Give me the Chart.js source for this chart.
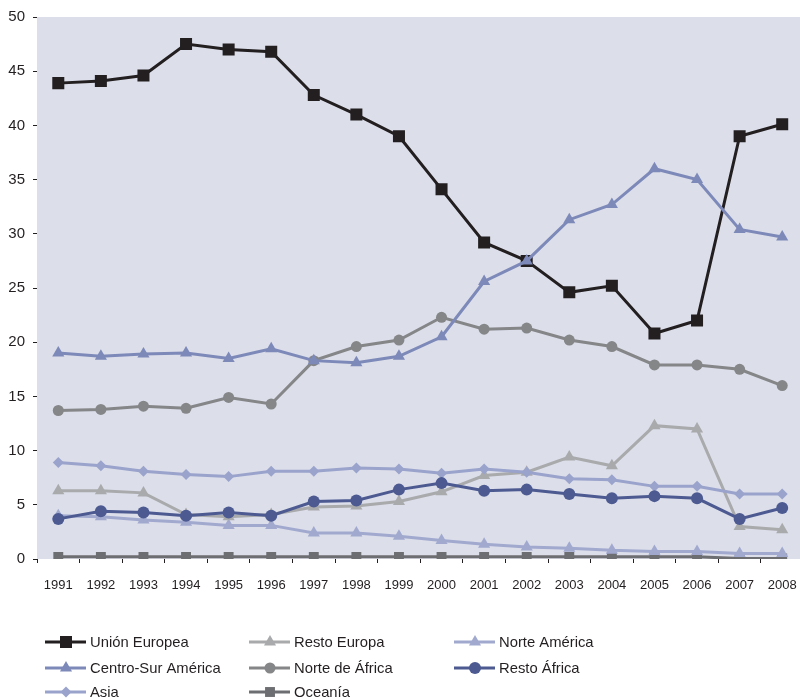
<!DOCTYPE html>
<html>
<head>
<meta charset="utf-8">
<script src="https://cdn.jsdelivr.net/npm/chart.js@4.4.1/dist/chart.umd.min.js"></script>
<style>
  html, body { margin: 0; padding: 0; background: #fff; overflow: hidden; }
  #wrap { width: 812px; height: 698px; position: relative; }
</style>
</head>
<body>
<div id="wrap"><canvas id="myChart" width="812" height="698"></canvas></div>
<script>
// years on the x axis
const years = ['1991','1992','1993','1994','1995','1996','1997','1998','1999',
               '2000','2001','2002','2003','2004','2005','2006','2007','2008'];

const unionEuropea   = [43.9, 44.1, 44.6, 47.5, 47.0, 46.8, 42.8, 41.0, 39.0, 34.1, 29.2, 27.5, 24.6, 25.2, 20.8, 22.0, 39.0, 40.1];
const restoEuropa    = [6.3, 6.3, 6.1, 4.1, 3.9, 4.1, 4.8, 4.9, 5.3, 6.2, 7.7, 8.0, 9.4, 8.6, 12.3, 12.0, 3.0, 2.7];
const norteAmerica   = [4.0, 3.9, 3.6, 3.4, 3.1, 3.1, 2.4, 2.4, 2.1, 1.7, 1.35, 1.1, 1.0, 0.8, 0.7, 0.7, 0.5, 0.5];
const centroSurAm    = [19.0, 18.7, 18.9, 19.0, 18.5, 19.4, 18.3, 18.1, 18.7, 20.5, 25.6, 27.5, 31.3, 32.7, 36.0, 35.0, 30.4, 29.7];
const norteAfrica    = [13.7, 13.8, 14.1, 13.9, 14.9, 14.3, 18.3, 19.6, 20.2, 22.3, 21.2, 21.3, 20.2, 19.6, 17.9, 17.9, 17.5, 16.0];
const restoAfrica    = [3.7, 4.4, 4.3, 4.0, 4.3, 4.0, 5.3, 5.4, 6.4, 7.0, 6.3, 6.4, 6.0, 5.6, 5.8, 5.6, 3.7, 4.7];
const asia           = [8.9, 8.6, 8.1, 7.8, 7.6, 8.1, 8.1, 8.4, 8.3, 7.9, 8.3, 8.0, 7.4, 7.3, 6.7, 6.7, 6.0, 6.0];
const oceania        = [0.2, 0.2, 0.2, 0.2, 0.2, 0.2, 0.2, 0.2, 0.2, 0.2, 0.2, 0.2, 0.2, 0.2, 0.2, 0.2, 0.05, 0.05];

const yTicks = [0, 5, 10, 15, 20, 25, 30, 35, 40, 45, 50];

const FONT = '"Liberation Sans", Arial, Helvetica, sans-serif';

function series(label, data, color, style, radius, order) {
  return {
    label: label,
    data: data,
    borderColor: color,
    backgroundColor: color,
    pointBackgroundColor: color,
    pointBorderColor: color,
    pointBorderWidth: 0,
    borderWidth: 3,
    pointStyle: style,
    pointRadius: radius,
    pointHoverRadius: radius,
    tension: 0,
    order: order
  };
}

const datasets = [
  series('Unión Europea', unionEuropea, '#231f20', 'rect', 8.5, 1),
  series('Resto Europa', restoEuropa, '#a9aaac', 'triangle', 7, 5),
  series('Norte América', norteAmerica, '#a1a9cf', 'triangle', 7, 6),
  series('Centro-Sur América', centroSurAm, '#7d89b8', 'triangle', 7, 0),
  series('Norte de África', norteAfrica, '#858688', 'circle', 5.5, 4),
  series('Resto África', restoAfrica, '#4c5a91', 'circle', 6, 2),
  series('Asia', asia, '#9aa3cb', 'rectRot', 5.5, 3),
  series('Oceanía', oceania, '#6d6e71', 'rect', 7, 7)
];

// plot background
const plotBg = {
  id: 'plotBg',
  beforeDraw(chart) {
    const a = chart.chartArea, ctx = chart.ctx;
    ctx.save();
    ctx.fillStyle = '#dcdeea';
    ctx.fillRect(a.left, a.top, a.right - a.left, a.bottom - a.top);
    ctx.restore();
  }
};

// legend: line sample with marker, 3 columns
const lineLegend = {
  id: 'lineLegend',
  afterDraw(chart) {
    const ctx = chart.ctx;
    const colX = [45, 249, 454];
    const rowY = [642, 668, 692];
    ctx.save();
    chart.data.datasets.forEach((ds, i) => {
      const x = colX[i % 3], y = rowY[Math.floor(i / 3)];
      ctx.strokeStyle = ds.borderColor;
      ctx.lineWidth = 3;
      ctx.beginPath();
      ctx.moveTo(x, y);
      ctx.lineTo(x + 41, y);
      ctx.stroke();
      ctx.fillStyle = ds.borderColor;
      Chart.helpers.drawPoint(ctx, { pointStyle: ds.pointStyle, radius: ds.pointRadius, borderWidth: 0 }, x + 21, y);
      ctx.fillStyle = '#231f20';
      ctx.font = '14.8px ' + FONT;
      ctx.textBaseline = 'middle';
      ctx.textAlign = 'left';
      ctx.fillText(ds.label, x + 45, y + 1);
    });
    ctx.restore();
  }
};

const ctx = document.getElementById('myChart').getContext('2d');
new Chart(ctx, {
  type: 'line',
  data: { labels: years, datasets: datasets },
  options: {
    responsive: false,
    animation: false,
    devicePixelRatio: 1,
    layout: { padding: { top: 16, right: 3, left: 0, bottom: 0 } },
    plugins: { legend: { display: false }, tooltip: { enabled: false } },
    scales: {
      x: {
        type: 'category',
        offset: true,
        grid: { offset: true, drawOnChartArea: false, drawTicks: true, tickLength: 4, color: '#231f20', lineWidth: 1 },
        border: { display: false },
        ticks: { color: '#231f20', font: { family: FONT, size: 13 }, padding: 15, maxRotation: 0, autoSkip: false },
        afterFit(s) { s.height = 139; }
      },
      y: {
        min: 0,
        max: 50,
        afterBuildTicks(s) { s.ticks = yTicks.map(v => ({ value: v })); },
        grid: { drawOnChartArea: false, drawTicks: true, tickLength: 4, color: '#231f20', lineWidth: 1 },
        border: { display: false },
        ticks: { color: '#231f20', font: { family: FONT, size: 15 }, padding: 8 },
        afterFit(s) { s.width = 37; }
      }
    }
  },
  plugins: [plotBg, lineLegend]
});
</script>
</body>
</html>
